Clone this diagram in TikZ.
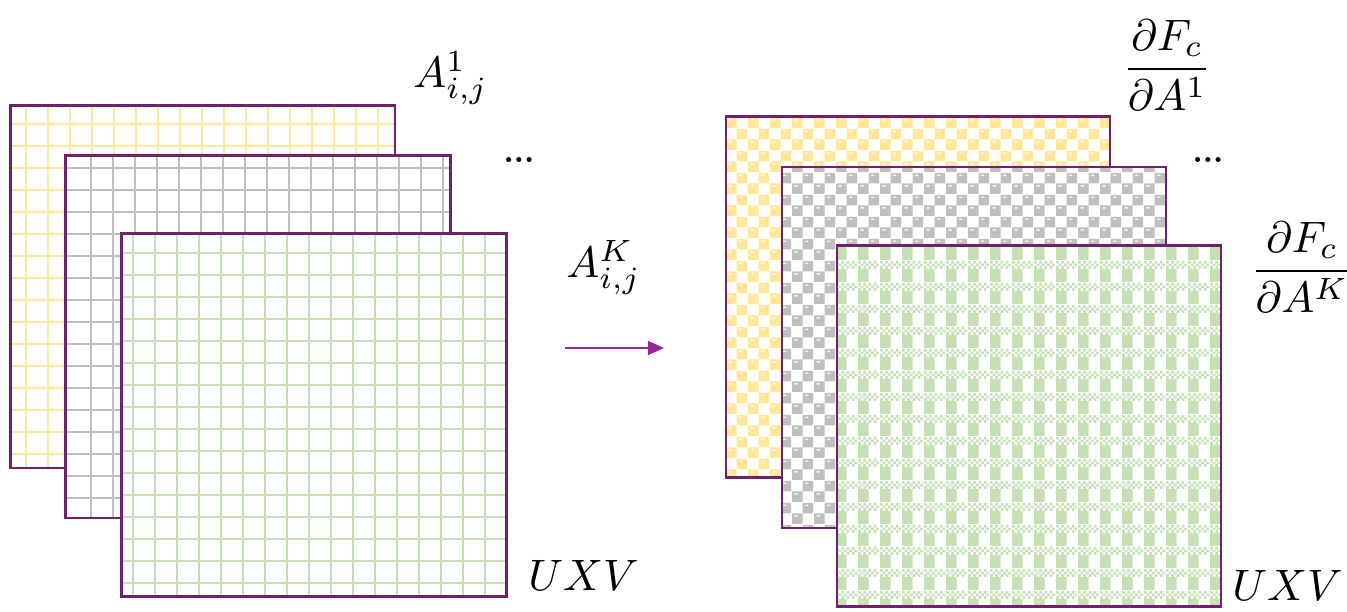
\documentclass[tikz,border=0pt]{standalone}
\usepackage{amsmath}
\usepackage{graphicx}
\usetikzlibrary{arrows.meta,patterns}
\definecolor{pur}{RGB}{112,32,108}
\definecolor{arr}{RGB}{150,40,150}
\definecolor{yel}{RGB}{255,230,153}
\definecolor{gry}{RGB}{191,191,191}
\definecolor{grn}{RGB}{197,224,180}
\pgfdeclarepatternformonly{sphchk}{\pgfpointorigin}{\pgfpoint{11pt}{11pt}}{\pgfpoint{11pt}{11pt}}{%
  \pgfseteorule
  \pgfpathrectangle{\pgfpoint{0pt}{0pt}}{\pgfpoint{5.5pt}{5.5pt}}%
  \pgfpathrectangle{\pgfpoint{5.5pt}{5.5pt}}{\pgfpoint{5.5pt}{5.5pt}}%
  \pgfpathrectangle{\pgfpoint{1.4pt}{3.9pt}}{\pgfpoint{1.6pt}{0.7pt}}%
  \pgfpathrectangle{\pgfpoint{6.9pt}{9.4pt}}{\pgfpoint{1.6pt}{0.7pt}}%
  \pgfusepath{fill}}
\pgfdeclarepatternformonly{plaid}{\pgfpointorigin}{\pgfpoint{11pt}{11pt}}{\pgfpoint{11pt}{11pt}}{%
  \pgfpathrectangle{\pgfpoint{0pt}{0pt}}{\pgfpoint{5.5pt}{6.875pt}}%
  \pgfpathrectangle{\pgfpoint{0pt}{6.875pt}}{\pgfpoint{1.375pt}{1.375pt}}%
  \pgfpathrectangle{\pgfpoint{2.75pt}{6.875pt}}{\pgfpoint{1.375pt}{1.375pt}}%
  \pgfpathrectangle{\pgfpoint{5.5pt}{6.875pt}}{\pgfpoint{1.375pt}{1.375pt}}%
  \pgfpathrectangle{\pgfpoint{8.25pt}{6.875pt}}{\pgfpoint{1.375pt}{1.375pt}}%
  \pgfpathrectangle{\pgfpoint{1.375pt}{8.25pt}}{\pgfpoint{1.375pt}{1.375pt}}%
  \pgfpathrectangle{\pgfpoint{4.125pt}{8.25pt}}{\pgfpoint{1.375pt}{1.375pt}}%
  \pgfpathrectangle{\pgfpoint{6.875pt}{8.25pt}}{\pgfpoint{1.375pt}{1.375pt}}%
  \pgfpathrectangle{\pgfpoint{9.625pt}{8.25pt}}{\pgfpoint{1.375pt}{1.375pt}}%
  \pgfpathrectangle{\pgfpoint{0pt}{9.625pt}}{\pgfpoint{1.375pt}{1.375pt}}%
  \pgfpathrectangle{\pgfpoint{2.75pt}{9.625pt}}{\pgfpoint{1.375pt}{1.375pt}}%
  \pgfpathrectangle{\pgfpoint{5.5pt}{9.625pt}}{\pgfpoint{1.375pt}{1.375pt}}%
  \pgfpathrectangle{\pgfpoint{8.25pt}{9.625pt}}{\pgfpoint{1.375pt}{1.375pt}}%
  \pgfusepath{fill}}
\newcommand{\lblscale}[1]{\scalebox{2.2}{#1}}
\tikzset{
  sheet/.style={draw=none, fill=white, inner sep=0pt,
    minimum width=192pt, minimum height=181pt},
  psheet/.style={draw=pur, line width=1.4pt, preaction={fill=white}, inner sep=0pt,
    minimum width=192pt, minimum height=180.5pt},
  border/.style={draw=pur, line width=1.4pt},
  gridline/.style={line width=1pt},
  mathlbl/.style={inner sep=0pt},
  dotslbl/.style={inner sep=0pt},
  flow/.style={draw=arr, line width=0.7pt, -{Triangle[length=8pt,width=7pt]}}
}
\begin{document}
\begin{tikzpicture}[x=0.5pt,y=-0.5pt]
\useasboundingbox (0,0) rectangle (1347,611);
% ---------- left stack ----------
\node[sheet] (ly) at (202.5,286.5) {};
\begin{scope}
  \clip (ly.south west) rectangle (ly.north east);
  \foreach \i in {0,...,16} \draw[gridline,yel] (26+22*\i,105) -- (26+22*\i,468);
  \foreach \i in {0,...,15} \draw[gridline,yel] (10,124+22*\i) -- (395,124+22*\i);
\end{scope}
\draw[border] (ly.south west) rectangle (ly.north east);
\node[sheet] (lg) at (258,336.5) {};
\begin{scope}
  \clip (lg.south west) rectangle (lg.north east);
  \foreach \i in {0,...,16} \draw[gridline,gry] (91+22*\i,155) -- (91+22*\i,518);
  \foreach \i in {0,...,15} \draw[gridline,gry] (66,168+22*\i) -- (450,168+22*\i);
\end{scope}
\draw[border] (lg.south west) rectangle (lg.north east);
\node[sheet] (lgr) at (314,415) {};
\begin{scope}
  \clip (lgr.south west) rectangle (lgr.north east);
  \foreach \i in {0,...,16} \draw[gridline,grn] (133+22*\i,234) -- (133+22*\i,596);
  \foreach \i in {0,...,15} \draw[gridline,grn] (122,253+22*\i) -- (506,253+22*\i);
\end{scope}
\draw[border] (lgr.south west) rectangle (lgr.north east);
% ---------- right stack ----------
\node[psheet, pattern=sphchk, pattern color=yel] (ry) at (918,297) {};
\node[psheet, pattern=sphchk, pattern color=gry] (rg) at (974,347.5) {};
\node[psheet, pattern=plaid, pattern color=grn] (rgr) at (1029,426) {};
% ---------- labels ----------
\node[mathlbl, anchor=base west] (a1) at (413,87) {\lblscale{$A^{1}_{i,j}$}};
\node[mathlbl, anchor=base west] (ak) at (566,277) {\lblscale{$A^{K}_{i,j}$}};
\node[dotslbl] (d1) at (519,160) {\scalebox{1.6}{\bfseries ...}};
\node[dotslbl] (d2) at (1208,160) {\scalebox{1.6}{\bfseries ...}};
\node[mathlbl, anchor=base west] (u1) at (528,590) {\lblscale{$UXV$}};
\node[mathlbl, anchor=base west] (u2) at (1232,600) {\lblscale{$UXV$}};
\node[mathlbl] (f1) at (1167,65) {\lblscale{$\dfrac{\partial F_c}{\partial A^{1}}$}};
\node[mathlbl] (fk) at (1302,267) {\lblscale{$\dfrac{\partial F_c}{\partial A^{K}}$}};
% ---------- arrow ----------
\coordinate (as) at (565,348);
\coordinate (ae) at (664,348);
\draw[flow] (as) -- (ae);
\end{tikzpicture}
\end{document}
